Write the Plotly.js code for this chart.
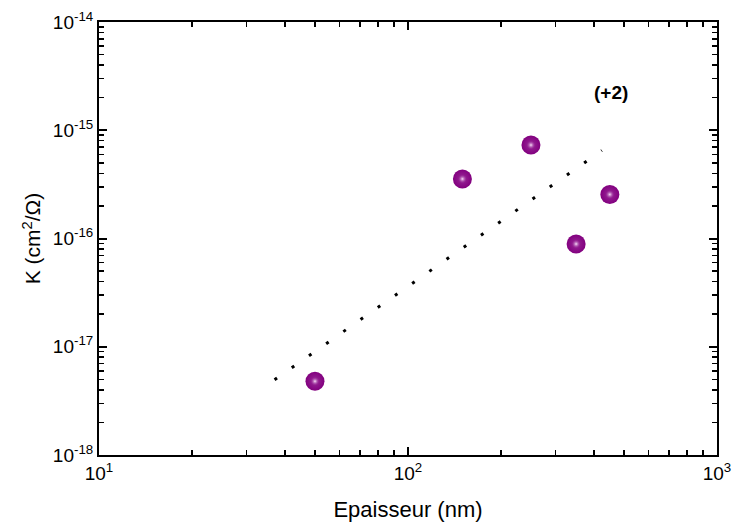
<!DOCTYPE html>
<html><head><meta charset="utf-8">
<script src="https://cdn.plot.ly/plotly-3.0.1.min.js"></script>
<style>html,body{margin:0;padding:0;background:#fff}</style>
</head><body>
<div id="chart" style="width:732px;height:524px"></div>
<script>
// Data
const thickness = [50, 150, 250, 350, 450];            // nm
const K = [4.8e-18, 3.55e-16, 7.3e-16, 8.9e-17, 2.55e-16]; // cm^2/Ohm
const fitX = [37, 424];
const fitY = [4.95e-18, 6.5e-16];
const xTickVals = [10, 100, 1000];
const xTickText = ['10<sup>1</sup>', '10<sup>2</sup>', '10<sup>3</sup>'];
const yTickVals = [1e-18, 1e-17, 1e-16, 1e-15, 1e-14];
const yTickText = ['10<sup>-18</sup>', '10<sup>-17</sup>', '10<sup>-16</sup>', '10<sup>-15</sup>', '10<sup>-14</sup>'];

const FONT = 'Liberation Sans, Arial, sans-serif';

const traces = [
  {x: fitX, y: fitY, mode: 'lines', type: 'scatter',
   line: {color: '#000', width: 3, dash: '3px,18px'}, hoverinfo: 'skip'},
  {x: thickness, y: K, mode: 'markers', type: 'scatter',
   marker: {size: 19, color: '#82007f', gradient: {type: 'radial', color: '#9a2a98'},
            line: {width: 0}}},
  {x: thickness, y: K, mode: 'markers', type: 'scatter', hoverinfo: 'skip',
   marker: {size: 9, color: 'rgba(150,40,150,0)', gradient: {type: 'radial', color: 'rgba(255,235,255,0.95)'},
            line: {width: 0}}}
];

const axisCommon = {
  type: 'log', showgrid: false, zeroline: false, showline: true,
  linecolor: '#000', linewidth: 2, mirror: 'allticks',
  ticks: 'inside', ticklen: 8, tickwidth: 2, tickcolor: '#000',
  tickmode: 'array',
  tickfont: {family: FONT, size: 19, color: '#000'},
  minor: {ticks: 'inside', ticklen: 5, tickwidth: 1.5, tickcolor: '#000', dtick: 'D1', showgrid: false}
};

const layout = {
  width: 732, height: 524,
  margin: {l: 99, r: 15, t: 22, b: 69},
  paper_bgcolor: '#fff', plot_bgcolor: '#fff',
  showlegend: false,
  xaxis: Object.assign({}, axisCommon, {
    range: [1, 3], tickvals: xTickVals, ticktext: xTickText,
    title: {text: 'Epaisseur (nm)', standoff: 19,
            font: {family: FONT, size: 22, color: '#000'}}
  }),
  yaxis: Object.assign({}, axisCommon, {
    range: [-18, -14], tickvals: yTickVals, ticktext: yTickText,
    title: {text: 'K (cm<sup>2</sup>/Ω)', standoff: 6,
            font: {family: FONT, size: 21, color: '#000'}}
  }),
  annotations: [{
    text: '<b>(+2)</b>', xref: 'paper', yref: 'paper', x: 0.86, y: 0.866,
    showarrow: false, font: {family: FONT, size: 19, color: '#000'}
  }]
};

Plotly.newPlot('chart', traces, layout, {displayModeBar: false, staticPlot: true});
</script>
</body></html>
